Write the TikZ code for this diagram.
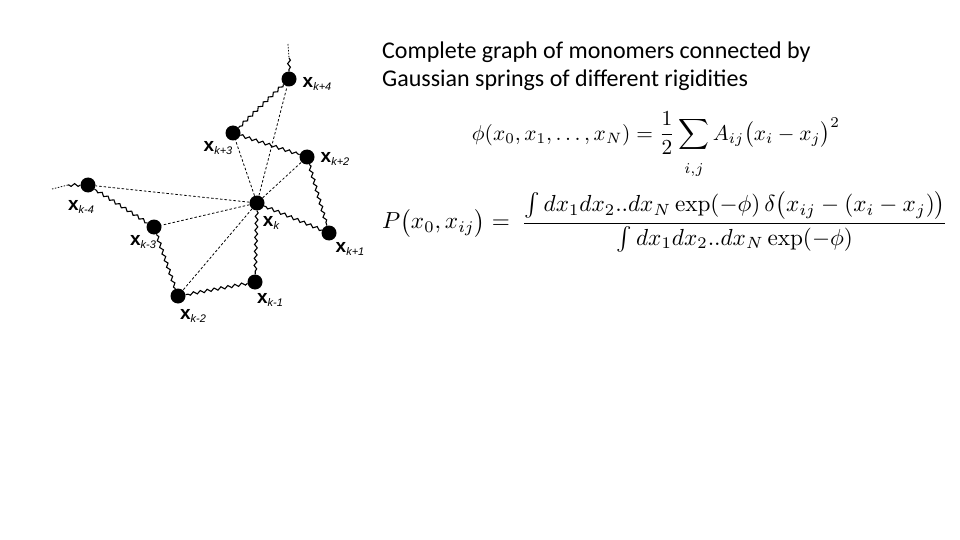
\documentclass[tikz,border=0pt]{standalone}
\usepackage{amsmath}
\usepackage{graphicx}
\usepackage[no-math]{fontspec}
\setmainfont{Carlito}
\newfontfamily\lblfont{Liberation Sans}
\usetikzlibrary{decorations.pathmorphing}
\begin{document}
\begin{tikzpicture}[x=1pt,y=-1pt,
  mono/.style={circle,fill=black,inner sep=0pt,minimum size=15pt},
  spring/.style={line width=1.1pt,decorate,decoration={snake,amplitude=1.4pt,segment length=7pt}},
  link/.style={line width=0.8pt,dash pattern=on 2.5pt off 2pt},
  freeend/.style={line width=0.8pt,dash pattern=on 1.5pt off 1.5pt},
  lbl/.style={inner sep=0pt,font=\lblfont}]
\useasboundingbox (0,0) rectangle (960,540);
\newcommand{\xlab}[1]{{\fontsize{19}{19}\selectfont\bfseries x}{\fontsize{11}{11}\selectfont\itshape\raisebox{-3pt}{#1}}}
% monomers
\node[mono] (kp4) at (289,79) {};
\node[mono] (kp3) at (233,133) {};
\node[mono] (kp2) at (307,157) {};
\node[mono] (k)   at (257,203) {};
\node[mono] (kp1) at (329,233) {};
\node[mono] (km4) at (88,185) {};
\node[mono] (km3) at (154,227) {};
\node[mono] (km1) at (255,282) {};
\node[mono] (km2) at (178,296) {};
\coordinate (topend) at (288,44);
\coordinate (topmid) at (289,58);
\coordinate (leftend) at (52,189);
\coordinate (leftmid) at (68,185);
% labels
\node[lbl] (lkp4) at (317,84) {\xlab{k+4}};
\node[lbl] (lkp3) at (218,148) {\xlab{k+3}};
\node[lbl] (lkp2) at (335,159) {\xlab{k+2}};
\node[lbl] (lkm4) at (81,207) {\xlab{k-4}};
\node[lbl] (lk)   at (271,223) {\xlab{k}};
\node[lbl] (lkm3) at (143,242) {\xlab{k-3}};
\node[lbl] (lkp1) at (350,249) {\xlab{k+1}};
\node[lbl] (lkm1) at (270,300) {\xlab{k-1}};
\node[lbl] (lkm2) at (193,316) {\xlab{k-2}};
% dashed complete-graph links
\draw[link] (k) -- (kp4);
\draw[link] (k) -- (kp3);
\draw[link] (k) -- (kp2);
\draw[link] (k) -- (km4);
\draw[link] (k) -- (km3);
\draw[link] (k) -- (km2);
% springs
\draw[freeend] (topend) -- (topmid);
\draw[spring] (topmid) -- (kp4);
\draw[spring] (kp4) -- (kp3);
\draw[spring] (kp3) -- (kp2);
\draw[spring] (kp2) -- (kp1);
\draw[spring] (kp1) -- (k);
\draw[spring] (k) -- (km1);
\draw[spring] (km1) -- (km2);
\draw[spring] (km2) -- (km3);
\draw[spring] (km3) -- (km4);
\draw[spring] (km4) -- (leftmid);
\draw[freeend] (leftmid) -- (leftend);
% text
\node[anchor=north west,align=left,inner sep=0pt,font=\fontsize{24}{28}\selectfont] (title) at (382,42)
  {Complete graph of monomers connected by\\Gaussian springs of different rigidities};
\node[anchor=center,inner sep=0pt] (eq1) at (656,145)
  {\resizebox{368pt}{!}{$\displaystyle \phi(x_0,x_1,\ldots,x_N)=\frac{1}{2}\sum_{\raisebox{-4pt}{$\scriptstyle i,j$}}A_{ij}\bigl(x_i-x_j\bigr)^2$}};
\node[anchor=west,inner sep=0pt] (eq2) at (382,222)
  {\resizebox{566pt}{!}{$\displaystyle P\bigl(x_0,x_{ij}\bigr)=\ \frac{\int dx_1dx_2..dx_N\exp(-\phi)\,\delta\bigl(x_{ij}-(x_i-x_j)\bigr)}{\int dx_1dx_2..dx_N\exp(-\phi)}$}};
\end{tikzpicture}
\end{document}
